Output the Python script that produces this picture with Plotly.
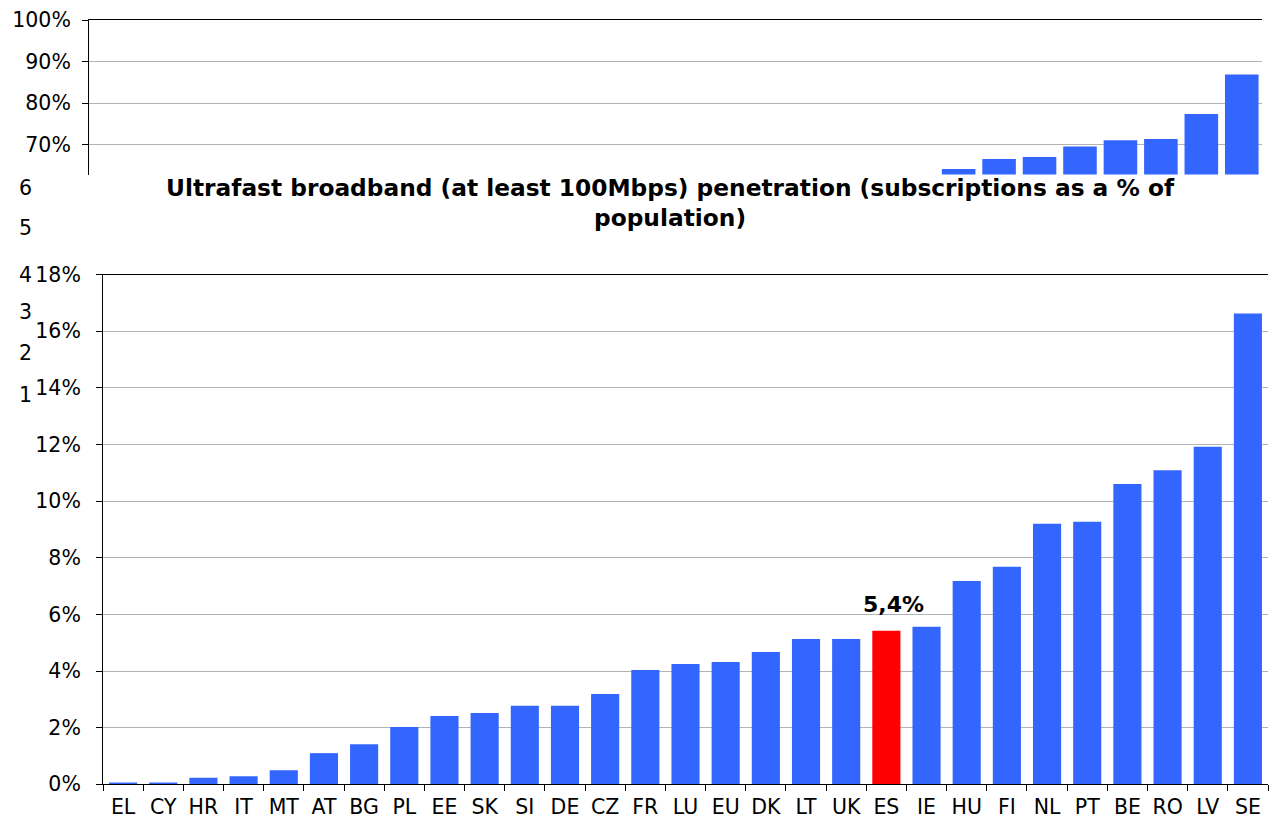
import plotly.graph_objects as go

W, H = 1272, 823

countries = ["EL", "CY", "HR", "IT", "MT", "AT", "BG", "PL", "EE", "SK", "SI", "DE", "CZ",
             "FR", "LU", "EU", "DK", "LT", "UK", "ES", "IE", "HU", "FI", "NL", "PT", "BE",
             "RO", "LV", "SE"]
ultrafast_pct = [0.06, 0.06, 0.23, 0.28, 0.50, 1.10, 1.41, 2.02, 2.41, 2.52, 2.77, 2.77, 3.19,
                 4.04, 4.25, 4.32, 4.67, 5.13, 5.13, 5.42, 5.56, 7.18, 7.68, 9.20, 9.27, 10.60,
                 11.09, 11.92, 16.62]
# background chart (only the top part of it is visible; earlier bars hidden below cut)
upper_pct = [None] * 21 + [64.2, 66.6, 67.1, 69.6, 71.1, 71.4, 77.4, 86.9]
upper_ticks = [70, 80, 90, 100]
lower_ticks = [0, 2, 4, 6, 8, 10, 12, 14, 16, 18]
phantom_labels = ["6", "5", "4", "3", "2", "1"]
highlight = "ES"

title_lines = ["Ultrafast broadband (at least 100Mbps) penetration (subscriptions as a % of",
               "population)"]

BLUE = "#3366FF"
RED = "#FF0000"
GRID = "#b3b3b3"
FONT = "DejaVu Sans, Liberation Sans, Arial, sans-serif"
TICK_SIZE = 20.5


def px_x(x):
    return x / W


def px_y(y):
    return 1 - y / H


bar_colors = [RED if c == highlight else BLUE for c in countries]

fig = go.Figure()
fig.add_trace(go.Bar(x=countries, y=upper_pct, marker_color=BLUE, marker_line_width=0,
                     xaxis="x2", yaxis="y2", width=0.83,
                     showlegend=False, hoverinfo="skip"))
fig.add_trace(go.Bar(x=countries, y=ultrafast_pct, marker_color=bar_colors,
                     marker_line_width=0, showlegend=False))

hi_idx = countries.index(highlight)
hi_val = ultrafast_pct[hi_idx]
annotations = [dict(x=highlight, y=hi_val, xref="x", yref="y",
                    text="<b>" + f"{hi_val:.1f}%".replace(".", ",") + "</b>",
                    showarrow=False, yanchor="bottom", yshift=12, xshift=7,
                    font=dict(family=FONT, size=22, color="black"))]

phantom_y = [188, 228, 275, 312, 353, 395]
for lab, yy in zip(phantom_labels, phantom_y):
    annotations.append(dict(x=px_x(34), y=px_y(yy), xref="paper", yref="paper", text=lab,
                            showarrow=False, xanchor="right", yanchor="middle",
                            font=dict(family=FONT, size=TICK_SIZE, color="black")))

annotations.append(dict(x=px_x(670), y=px_y(202), xref="paper", yref="paper",
                        text="<br>".join("<b>" + t + "</b>" for t in title_lines),
                        showarrow=False, xanchor="center", yanchor="middle",
                        font=dict(family=FONT, size=23.3, color="black")))

fig.update_layout(
    width=W, height=H,
    margin=dict(l=0, r=0, t=0, b=0, autoexpand=False),
    paper_bgcolor="white", plot_bgcolor="white",
    bargap=0.3,
    font=dict(family=FONT, size=TICK_SIZE, color="black"),
    annotations=annotations,
    xaxis=dict(domain=[px_x(103), px_x(1268)], anchor="y", type="category",
               range=[-0.5, len(countries) - 0.5], automargin=False, tickangle=0,
               showline=True, linecolor="black", linewidth=1, mirror=True,
               ticks="outside", tickson="boundaries", ticklen=6, tickcolor="black",
               showgrid=False, tickfont=dict(size=TICK_SIZE), ticklabelstandoff=4),
    yaxis=dict(domain=[px_y(784.3), px_y(274.5)], anchor="x", range=[0, 18],
               tickvals=lower_ticks, ticktext=[f"{v}%" for v in lower_ticks],
               automargin=False,
               showline=True, linecolor="black", linewidth=1,
               ticks="outside", ticklen=6, tickcolor="black",
               showgrid=True, gridcolor=GRID, gridwidth=1, zeroline=False,
               tickfont=dict(size=TICK_SIZE), ticklabelstandoff=11),
    xaxis2=dict(domain=[px_x(89), px_x(1262)], anchor="y2", type="category",
                range=[-0.5, len(countries) - 0.5], side="top", automargin=False,
                showline=True, linecolor="black", linewidth=1,
                showticklabels=False, ticks="", showgrid=False),
    yaxis2=dict(domain=[px_y(174.5), px_y(20)], anchor="x2", range=[62.9, 100],
                tickvals=upper_ticks, ticktext=[f"{v}%" for v in upper_ticks],
                automargin=False,
                showline=True, linecolor="black", linewidth=1,
                ticks="outside", ticklen=6, tickcolor="black",
                showgrid=True, gridcolor=GRID, gridwidth=1, zeroline=False,
                tickfont=dict(size=TICK_SIZE), ticklabelstandoff=7),
)

fig.write_html("out.html", config={"displayModeBar": False},
               post_script="document.body.style.margin='0';")
